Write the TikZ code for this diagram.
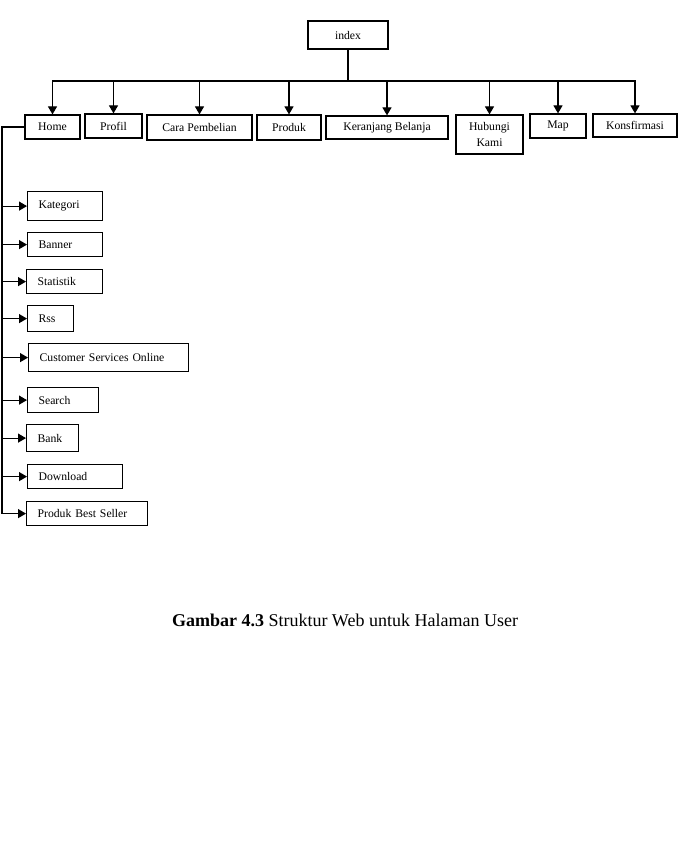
\documentclass[tikz,border=0pt]{standalone}
\usepackage{fontspec}
\setmainfont{Liberation Serif}
\usetikzlibrary{arrows.meta}
\tikzset{
  box/.style={draw, line width=1.2pt, inner sep=0pt, font=\fontsize{11.7}{14}\selectfont},
  leaf/.style={box, anchor=north west, inner xsep=11pt, align=left},
  arr/.style={line width=1.2pt, -{Triangle[length=8pt,width=9pt]}}
}
\begin{document}
\begin{tikzpicture}[x=1pt,y=-1pt]
\useasboundingbox (0,0) rectangle (679,864);
\node[box, minimum width=80pt, minimum height=28pt] (index) at (348,35) {index};
% halaman utama
\node[box, minimum width=55pt, minimum height=24pt] (home) at (52.5,127) {Home};
\node[box, minimum width=57pt, minimum height=24pt] (profil) at (113.5,126) {Profil};
\node[box, minimum width=105pt, minimum height=25pt] (cara) at (199.5,127.5) {Cara Pembelian};
\node[box, minimum width=64pt, minimum height=25pt] (produk) at (289,127.5) {Produk};
\node[box, minimum width=122pt, minimum height=23pt] (keranjang) at (387,127.5) {Keranjang Belanja};
\node[box, minimum width=67pt, minimum height=39pt, align=center,
  font=\fontsize{11.7}{16.5}\selectfont] (hubungi) at (489.5,134.5) {Hubungi\\Kami};
\node[box, minimum width=56pt, minimum height=24pt] (map) at (558,126) {Map};
\node[box, minimum width=84pt, minimum height=23pt] (konfirmasi) at (635,125.5) {Konsfirmasi};
\coordinate (bus) at (348,81);
\draw[line width=1.2pt] (index.south) -- (bus);
\foreach \n in {home,profil,cara,produk,keranjang,hubungi,map,konfirmasi}
  \draw[arr] (bus) -| (\n.north);

% isi halaman home
\coordinate (trunk) at (2,127);
\foreach \n/\x/\y/\w/\h/\lab in {kategori/27/191/53/29/Kategori,
  banner/27/232/53/24/Banner,
  statistik/26/269/54/24/Statistik,
  rss/27/305/24/26/Rss,
  cso/28/343/138/28/{Customer Services Online},
  search/27/387/49/25/Search,
  bank/26/424/30/27/Bank,
  download/27/464/73/24/Download,
  bestseller/26/501/99/24/{Produk Best Seller}}
{
  \node[leaf, text width=\w pt, minimum height=\h pt] (\n) at (\x,\y) {\lab};
  \draw[arr] (trunk |- \n.west) -- (\n.west);
}
\draw[line width=1.2pt] (home.west) -- (trunk) -- (trunk |- bestseller.west);

\node[font=\fontsize{18}{21}\selectfont] (caption) at (345,620) {\textbf{Gambar 4.3} Struktur Web untuk Halaman User};
\end{tikzpicture}
\end{document}
